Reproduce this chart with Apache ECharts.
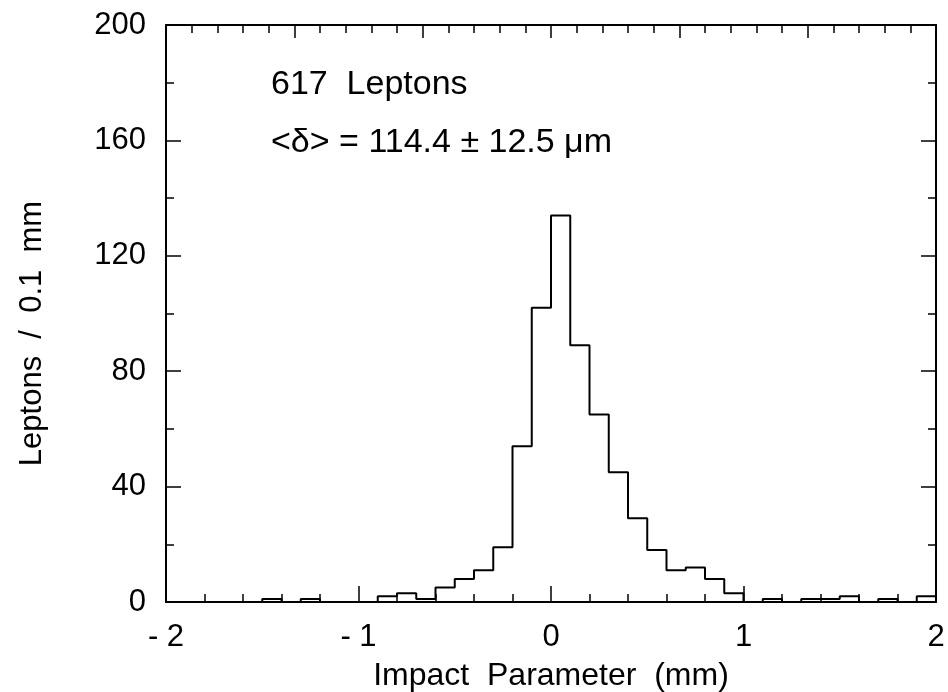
<!DOCTYPE html>
<html>
<head>
<meta charset="utf-8">
<script src="https://cdn.jsdelivr.net/npm/echarts@6/dist/echarts.min.js"></script>
<style>
html,body{margin:0;padding:0;background:#fff;}
#chart{width:948px;height:692px;}
</style>
</head>
<body>
<div id="chart"></div>
<script>
// Bin left edges (mm), bin width 0.1 mm
var binLeft = [-2.0,-1.9,-1.8,-1.7,-1.6,-1.5,-1.4,-1.3,-1.2,-1.1,
               -1.0,-0.9,-0.8,-0.7,-0.6,-0.5,-0.4,-0.3,-0.2,-0.1,
                0.0, 0.1, 0.2, 0.3, 0.4, 0.5, 0.6, 0.7, 0.8, 0.9,
                1.0, 1.1, 1.2, 1.3, 1.4, 1.5, 1.6, 1.7, 1.8, 1.9];
var histEnd = 2.0;
// Leptons per 0.1 mm bin
var counts = [0,0,0,0,0,1,0,1,0,0,
              0,2,3,1,5,8,11,19,54,102,
              134,89,65,45,29,18,11,12,8,3,
              0,1,0,1,1,2,0,1,0,2];
var xTickLabels = {'-2':'- 2','-1':'- 1','0':'0','1':'1','2':'2'};
var yTicks = [0,40,80,120,160,200];
var annotation1 = '617  Leptons';
var annotation2 = '<δ> = 114.4 ± 12.5 μm';
var xTitle = 'Impact  Parameter  (mm)';
var yTitle = 'Leptons  /  0.1  mm';

var FONT = "'Liberation Sans', Arial, Helvetica, sans-serif";
var stepData = binLeft.map(function(x,i){return [x, counts[i]];});
stepData.push([histEnd, counts[counts.length-1]]);

var chart = echarts.init(document.getElementById('chart'));
var lineStyle = {color:'#000', width:2};
var tickStyle = {color:'#000', width:1.5};
chart.setOption({
  backgroundColor:'#fff',
  animation:false,
  grid:{left:166, right:12, top:25, bottom:90, containLabel:false, outerBoundsMode:'none'},
  xAxis:[{
    type:'value', min:-2, max:2, interval:1, position:'bottom',
    axisLine:{show:true, onZero:false, lineStyle:lineStyle},
    axisTick:{show:true, inside:true, length:16, lineStyle:tickStyle},
    minorTick:{show:true, splitNumber:5, length:8, lineStyle:tickStyle},
    splitLine:{show:false},
    axisLabel:{margin:20, fontSize:31, fontFamily:FONT, color:'#000',
      formatter:function(v){return xTickLabels[String(v)]!==undefined?xTickLabels[String(v)]:String(v);}},
    name:xTitle, nameLocation:'middle', nameGap:58,
    nameTextStyle:{fontSize:32, fontFamily:FONT, color:'#000'}
  },{
    type:'value', min:-3, max:3, interval:1, position:'top',
    axisLine:{show:true, onZero:false, lineStyle:lineStyle},
    axisTick:{show:true, inside:true, length:13, lineStyle:tickStyle},
    minorTick:{show:true, splitNumber:5, length:8, lineStyle:tickStyle},
    splitLine:{show:false},
    axisLabel:{show:false}
  }],
  yAxis:[{
    type:'value', min:0, max:200, interval:40, position:'left',
    axisLine:{show:true, onZero:false, lineStyle:lineStyle},
    axisTick:{show:true, inside:true, length:15, lineStyle:tickStyle},
    minorTick:{show:true, splitNumber:2, length:8, lineStyle:tickStyle},
    splitLine:{show:false},
    axisLabel:{margin:20, fontSize:31, fontFamily:FONT, color:'#000'},
    name:yTitle, nameLocation:'middle', nameGap:118, nameRotate:90,
    nameTextStyle:{fontSize:31, fontFamily:FONT, color:'#000', padding:[0,40,0,0]}
  },{
    type:'value', min:0, max:200, interval:40, position:'right',
    axisLine:{show:true, onZero:false, lineStyle:lineStyle},
    axisTick:{show:true, inside:true, length:15, lineStyle:tickStyle},
    minorTick:{show:true, splitNumber:2, length:8, lineStyle:tickStyle},
    splitLine:{show:false},
    axisLabel:{show:false}
  }],
  series:[{
    type:'line', xAxisIndex:0, yAxisIndex:0,
    step:'end', data:stepData, symbol:'none',
    lineStyle:{color:'#000', width:2}
  }],
  graphic:[
    {type:'text', left:271, top:68, style:{text:annotation1, fontSize:34, fontFamily:FONT, fill:'#000'}},
    {type:'text', left:271, top:126, style:{text:annotation2, fontSize:34, fontFamily:FONT, fill:'#000'}}
  ]
});
</script>
</body>
</html>
